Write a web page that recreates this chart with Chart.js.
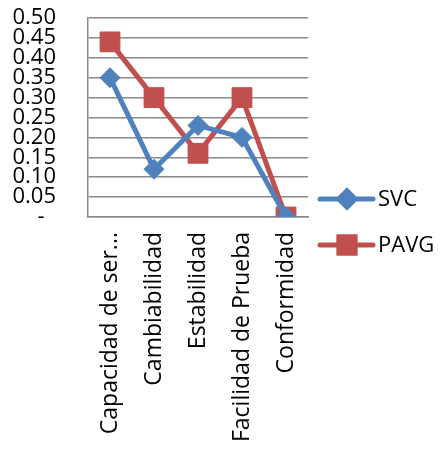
<!DOCTYPE html>
<html>
<head>
<meta charset="utf-8">
<script src="https://cdn.jsdelivr.net/npm/chart.js@4/dist/chart.umd.min.js"></script>
<style>
  html, body { margin: 0; padding: 0; background: #fff; }
  #wrap { width: 440px; height: 450px; }
</style>
</head>
<body>
<div id="wrap"><canvas id="grafico"></canvas></div>
<script>
// categorias e series
const categorias = ['Capacidad de ser...', 'Cambiabilidad', 'Estabilidad', 'Facilidad de Prueba', 'Conformidad'];
const valoresSVC = [0.35, 0.12, 0.23, 0.20, 0.00];
const valoresPAVG = [0.44, 0.30, 0.16, 0.30, 0.00];
const nomesSeries = ['SVC', 'PAVG'];
const eixoY = { min: 0, max: 0.5, passo: 0.05 };

const fonte = "'Open Sans', 'Liberation Sans', sans-serif";
const cinza = '#8a8a8a';

// legenda desenhada a mao: linha + marcador + texto
const legendaLinha = {
  id: 'legendaLinha',
  afterDraw(chart) {
    const ctx = chart.ctx;
    const area = chart.chartArea;
    const x0 = area.right + 12;
    const centro = chart.height / 2 - 3;
    chart.data.datasets.forEach((ds, i) => {
      const y = centro - 23 + i * 46;
      ctx.save();
      ctx.strokeStyle = ds.borderColor;
      ctx.lineWidth = ds.borderWidth;
      ctx.lineCap = 'round';
      ctx.beginPath();
      ctx.moveTo(x0, y);
      ctx.lineTo(x0 + 53, y);
      ctx.stroke();
      Chart.helpers.drawPoint(ctx, {
        pointStyle: ds.pointStyle,
        radius: ds.pointRadius * 0.8,
        borderWidth: 1,
        rotation: 0
      }, x0 + 27, y);
      ctx.fillStyle = ds.pointBackgroundColor;
      ctx.strokeStyle = ds.pointBorderColor;
      ctx.fill();
      ctx.stroke();
      ctx.fillStyle = '#000';
      ctx.font = '22px ' + fonte;
      ctx.textBaseline = 'middle';
      ctx.textAlign = 'left';
      ctx.fillText(ds.label, x0 + 58, y + 1);
      ctx.restore();
    });
  }
};

new Chart(document.getElementById('grafico'), {
  type: 'line',
  data: {
    labels: categorias,
    datasets: [{
      label: nomesSeries[0],
      data: valoresSVC,
      borderColor: '#4F81BD',
      backgroundColor: '#4F81BD',
      pointBackgroundColor: '#4F81BD',
      pointBorderColor: '#4F81BD',
      borderWidth: 5,
      pointStyle: 'rectRot',
      pointRadius: 10,
      pointBorderWidth: 1,
      tension: 0
    }, {
      label: nomesSeries[1],
      data: valoresPAVG,
      borderColor: '#C0504D',
      backgroundColor: '#C0504D',
      pointBackgroundColor: '#C0504D',
      pointBorderColor: '#C0504D',
      borderWidth: 5,
      pointStyle: 'rect',
      pointRadius: 14,
      pointBorderWidth: 1,
      tension: 0
    }]
  },
  options: {
    responsive: true,
    maintainAspectRatio: false,
    animation: false,
    layout: { padding: { top: 18, right: 132, left: 0, bottom: 0 } },
    plugins: {
      legend: { display: false },
      tooltip: { enabled: false }
    },
    scales: {
      x: {
        offset: true,
        grid: { display: false, drawTicks: false },
        border: { display: true, color: cinza, width: 1.5 },
        ticks: {
          color: '#000',
          font: { family: fonte, size: 23 },
          minRotation: 90,
          maxRotation: 90,
          autoSkip: false,
          padding: 15
        },
        afterFit(scale) { scale.height = 233; }
      },
      y: {
        min: eixoY.min,
        max: eixoY.max,
        // tickLength invisivel para afastar os rotulos sem mexer no padding de cima
        grid: { color: cinza, lineWidth: 1.5, drawTicks: true, tickLength: 30, tickColor: 'rgba(0,0,0,0)' },
        border: { display: true, color: cinza, width: 1.5 },
        ticks: {
          stepSize: eixoY.passo,
          autoSkip: false,
          color: '#000',
          padding: 2,
          font: { family: fonte, size: 22, lineHeight: 1 },
          callback: v => (Math.abs(v) < 1e-9 ? '-  ' : v.toFixed(2))
        },
        afterFit(scale) { scale.width = 88; }
      }
    }
  },
  plugins: [legendaLinha]
});
</script>
</body>
</html>
